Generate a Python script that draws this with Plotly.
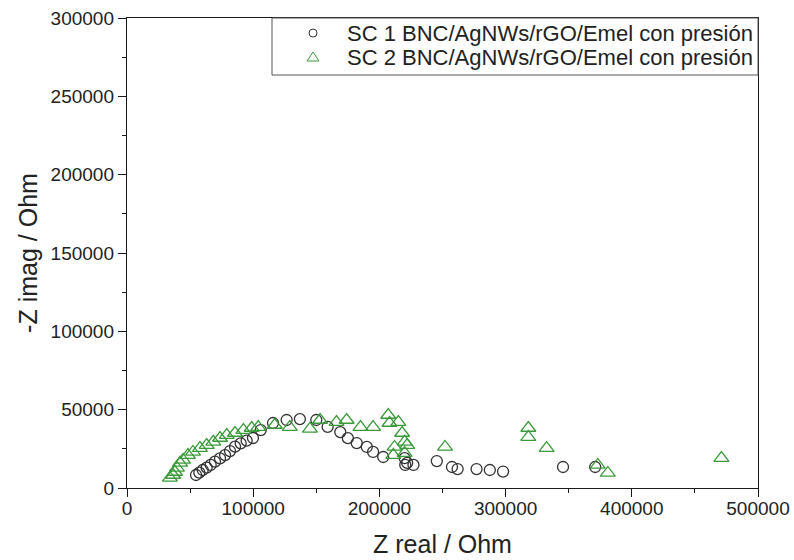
import plotly.graph_objects as go

sc1_x = [54700, 57300, 60000, 63100, 66300, 69700, 73700, 77700, 81600, 85600, 90100, 94800, 99800,
         106000, 115700, 126500, 137000, 150000, 159000, 169000, 175000, 182000, 190000, 195000,
         203000, 220000, 222000, 227000, 220500, 245500, 257500, 262000, 277000, 287500, 298000,
         345500, 371000]
sc1_y = [8300, 9800, 11500, 13000, 14700, 16800, 18900, 21000, 23600, 26400, 28500, 30200, 31900,
         37000, 41500, 43400, 44000, 43400, 39000, 35700, 31800, 28700, 26200, 23000,
         19800, 19100, 16000, 14700, 14700, 17200, 13400, 12100, 12100, 11500, 10500,
         13400, 13400]

sc2_x = [34000, 36500, 38000, 39600, 42000, 44400, 48300, 52300, 57800, 63100, 68400, 73700, 79000,
         85600, 92200, 98800, 104000, 117000, 129000, 145000, 153000, 166000, 174000, 185000,
         195000, 207000, 208000, 215000, 218000, 220000, 222000, 212000, 211000, 220000, 252000,
         318000, 318000, 332500, 373000, 381000, 471000]
sc2_y = [6400, 8300, 10200, 12800, 16000, 17900, 21000, 23000, 25500, 27400, 29400, 31900, 33800,
         35100, 37000, 38300, 38900, 40200, 38900, 37700, 43400, 42100, 43400, 38900,
         38900, 46600, 41500, 42100, 35100, 29400, 27400, 26200, 21000, 22300, 26200,
         38300, 32500, 25500, 14700, 9600, 19100]

names = ["SC 1 BNC/AgNWs/rGO/Emel con presión", "SC 2 BNC/AgNWs/rGO/Emel con presión"]
green = "#3a9a3a"
dark = "#333333"
FONT = "Liberation Sans, Arial"
TXT = "#222222"

fig = go.Figure()
fig.add_trace(go.Scatter(x=sc1_x, y=sc1_y, mode="markers", name=names[0], showlegend=False,
                         marker=dict(symbol="circle-open", size=11, color=dark,
                                     line=dict(width=1.3))))
fig.add_trace(go.Scatter(x=sc2_x, y=sc2_y, mode="markers", name=names[1], showlegend=False,
                         marker=dict(symbol="triangle-up-open", size=13, color=green,
                                     line=dict(width=1.3))))

axis_common = dict(showline=True, linecolor="#1a1a1a", linewidth=1.4, mirror=True,
                   ticks="outside", ticklen=8, tickwidth=1.3, tickcolor="#1a1a1a",
                   showgrid=False, zeroline=False, automargin=False,
                   tickfont=dict(family=FONT, size=19, color=TXT),
                   title_font=dict(family=FONT, size=25, color=TXT))

fig.update_xaxes(range=[0, 500000], dtick=100000, tickformat="d", ticklabelstandoff=-5,
                 minor=dict(dtick=50000, ticks="outside", ticklen=4, tickcolor="#1a1a1a"),
                 title_text="Z real / Ohm", title_standoff=17, **axis_common)
fig.update_yaxes(range=[0, 300000], dtick=50000, tickformat="d",
                 minor=dict(dtick=25000, ticks="outside", ticklen=4, tickcolor="#1a1a1a"),
                 title_text="-Z imag / Ohm", title_standoff=5, **axis_common)

# manual legend (box, symbols, labels) in paper coordinates
leg_left, leg_bottom = 0.2298, 0.8787
row_y = [0.968, 0.917]
sym_x = 0.2948
txt_x = 0.3455
shapes = [
    dict(type="rect", xref="paper", yref="paper", x0=leg_left, x1=1, y0=leg_bottom, y1=1,
         line=dict(color="#555555", width=1), fillcolor="white", layer="above"),
    dict(type="circle", xref="paper", yref="paper", xsizemode="pixel", ysizemode="pixel",
         xanchor=sym_x, yanchor=row_y[0], x0=-4, x1=4, y0=-4, y1=4,
         line=dict(color=dark, width=1), layer="above"),
    dict(type="path", xref="paper", yref="paper", xsizemode="pixel", ysizemode="pixel",
         xanchor=sym_x, yanchor=row_y[1], path="M -6,-4 L 6,-4 L 0,5 Z",
         line=dict(color=green, width=1), layer="above"),
]
annotations = [
    dict(xref="paper", yref="paper", x=txt_x, y=row_y[i], text=names[i], showarrow=False,
         xanchor="left", yanchor="middle", font=dict(family=FONT, size=22, color=TXT))
    for i in range(2)
]

fig.update_layout(
    width=794, height=560,
    margin=dict(l=127, r=36, t=18, b=72),
    plot_bgcolor="white", paper_bgcolor="white",
    font=dict(family=FONT, color=TXT),
    shapes=shapes, annotations=annotations,
)

fig.write_html("out.html")
